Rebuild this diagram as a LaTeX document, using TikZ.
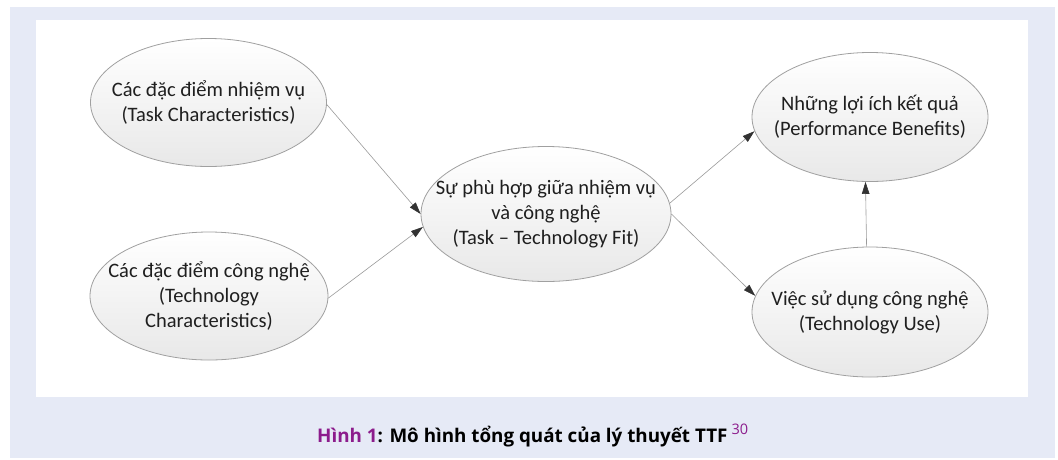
\documentclass[tikz,border=0pt]{standalone}
\usepackage{fontspec}
\setmainfont{Carlito}
\newfontfamily\capfont{Open Sans}
\usetikzlibrary{shapes.geometric,arrows.meta}
\definecolor{lav}{RGB}{230,234,246}
\definecolor{capurple}{RGB}{140,28,140}
\definecolor{edgegray}{RGB}{160,160,160}
\definecolor{linegray}{RGB}{155,155,155}
\definecolor{tipgray}{RGB}{50,50,50}
\begin{document}
\begin{tikzpicture}[x=1pt,y=-1pt,
  oval/.style={ellipse, draw=edgegray, line width=0.8pt, top color=white, bottom color=black!9, inner sep=0pt},
  lbl/.style={align=center, inner sep=0pt, font=\fontsize{20.5}{25}\selectfont, text=black!88},
  link/.style={draw=linegray, line width=0.6pt, -{Triangle[length=12pt,width=7.5pt,color=tipgray,fill=tipgray]}}
]
\useasboundingbox (0,0) rectangle (1058,459);
\fill[lav] (10,7) rectangle (1055,458);
\fill[white] (36,20) rectangle (1028,397);

\node[oval, minimum width=236pt, minimum height=128pt] (tc) at (208.5,102.5) {};
\node[oval, minimum width=238pt, minimum height=128pt] (tec) at (209,296) {};
\node[oval, minimum width=250pt, minimum height=135pt] (fit) at (546,214) {};
\node[oval, minimum width=236pt, minimum height=129pt] (pb) at (870,117) {};
\node[oval, minimum width=236pt, minimum height=130pt] (tu) at (870,312) {};

\node[lbl] (tct) at (tc.center) {Các đặc điểm nhiệm vụ\\(Task Characteristics)};
\node[lbl] (tect) at (tec.center) {Các đặc điểm công nghệ\\(Technology\\Characteristics)};
\node[lbl] (fitt) at (fit.center) {Sự phù hợp giữa nhiệm vụ\\và công nghệ\\(Task – Technology Fit)};
\node[lbl] (pbt) at (pb.center) {Những lợi ích kết quả\\(Performance Benefits)};
\node[lbl] (tut) at (tu.center) {Việc sử dụng công nghệ\\(Technology Use)};

\draw[link] (tc.-1) -- (fit.180);
\draw[link] (tec.-1.5) -- (fit.186);
\draw[link] (fit.5) -- (pb.187);
\draw[link] (fit.-0.5) -- (tu.172.5);
\draw[link] (tu.93.5) -- (pb.266.5);

\node[anchor=base west, inner sep=0pt] (cap) at (317,442)
  {\capfont\bfseries\fontsize{18.8}{22}\selectfont\textcolor{capurple}{Hình 1}: Mô hình tổng quát của lý thuyết TTF\kern4pt\raisebox{8pt}{\mdseries\fontsize{14.5}{14.5}\selectfont\textcolor{capurple}{30}}};
\end{tikzpicture}
\end{document}
